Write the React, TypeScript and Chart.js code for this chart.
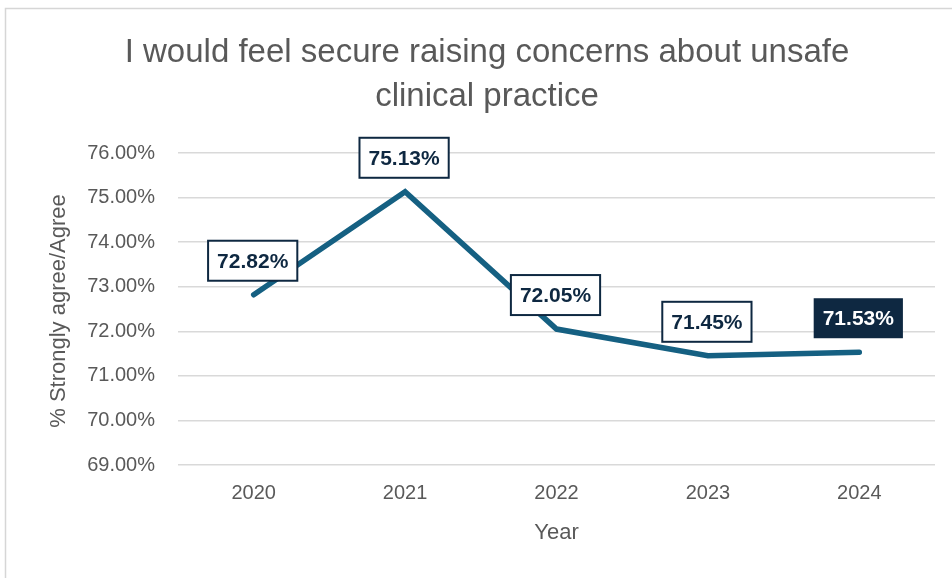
import React, { useEffect, useRef } from "react";
import { Chart, registerables } from "chart.js";

Chart.register(...registerables);

const years = ["2020", "2021", "2022", "2023", "2024"];
const agreePct = [72.82, 75.13, 72.05, 71.45, 71.53];
const titleLines = ["I would feel secure raising concerns about unsafe", "clinical practice"];
const yAxisTitle = "% Strongly agree/Agree";
const xAxisTitle = "Year";

const LINE = "#156082";
const NAVY = "#0E2841";
const GREY = "#595959";

const decorPlugin = {
  id: "decor",
  beforeDraw(chart: any) {
    const ctx = chart.ctx;
    ctx.save();
    ctx.fillStyle = "#ffffff";
    ctx.fillRect(0, 0, chart.width, chart.height);
    ctx.strokeStyle = "#d6d6d6";
    ctx.lineWidth = 1.5;
    ctx.beginPath();
    ctx.moveTo(5.5, chart.height);
    ctx.lineTo(5.5, 8.5);
    ctx.lineTo(chart.width, 8.5);
    ctx.stroke();
    // title
    ctx.fillStyle = GREY;
    ctx.font = "33px 'Liberation Sans', Arial, sans-serif";
    ctx.textAlign = "center";
    ctx.textBaseline = "alphabetic";
    ctx.fillText(titleLines[0], 487, 62);
    ctx.fillText(titleLines[1], 487, 106);
    // axis titles
    ctx.font = "22px 'Liberation Sans', Arial, sans-serif";
    const ca = chart.chartArea;
    ctx.textBaseline = "middle";
    ctx.fillText(xAxisTitle, (ca.left + ca.right) / 2, 533);
    ctx.translate(59, 311);
    ctx.rotate(-Math.PI / 2);
    ctx.fillText(yAxisTitle, 0, 0);
    ctx.restore();
  },
  afterDatasetsDraw(chart: any) {
    const ctx = chart.ctx;
    const meta = chart.getDatasetMeta(0);
    const data = chart.data.datasets[0].data as number[];
    ctx.save();
    ctx.font = "bold 21px 'Liberation Sans', Arial, sans-serif";
    ctx.textAlign = "center";
    ctx.textBaseline = "middle";
    meta.data.forEach((pt: any, i: number) => {
      const text = data[i].toFixed(2) + "%";
      const w = ctx.measureText(text).width + 18;
      const h = 40;
      const bx = pt.x - w / 2 - 1;
      const by = pt.y - 14 - h;
      const last = i === data.length - 1;
      ctx.fillStyle = last ? NAVY : "#ffffff";
      ctx.fillRect(bx, by, w, h);
      if (!last) {
        ctx.strokeStyle = NAVY;
        ctx.lineWidth = 2;
        ctx.strokeRect(bx, by, w, h);
      }
      ctx.fillStyle = last ? "#ffffff" : NAVY;
      ctx.fillText(text, bx + w / 2, by + h / 2 + 1);
    });
    ctx.restore();
  },
};

export default function App() {
  const ref = useRef<HTMLCanvasElement>(null);
  useEffect(() => {
    if (!ref.current) return;
    const chart = new Chart(ref.current, {
      type: "line",
      data: {
        labels: years,
        datasets: [
          {
            data: agreePct,
            borderColor: LINE,
            borderWidth: 5.5,
            borderCapStyle: "round",
            borderJoinStyle: "miter",
            pointRadius: 0,
            tension: 0,
            fill: false,
          },
        ],
      },
      options: {
        animation: false,
        responsive: false,
        devicePixelRatio: 1,
        layout: { padding: { left: 0, right: 17, top: 153, bottom: 0 } },
        plugins: { legend: { display: false }, title: { display: false }, tooltip: { enabled: false } },
        scales: {
          x: {
            offset: true,
            grid: { display: false, drawTicks: false },
            border: { display: false },
            ticks: { color: GREY, font: { size: 20, family: "'Liberation Sans', Arial, sans-serif" }, padding: 16 },
            afterFit: (s: any) => { s.height = 113; },
          },
          y: {
            min: 69,
            max: 76,
            grid: { color: "#d9d9d9", lineWidth: 1.5, drawTicks: false },
            border: { display: false },
            ticks: {
              stepSize: 1,
              color: GREY,
              font: { size: 20, family: "'Liberation Sans', Arial, sans-serif" },
              padding: 23,
              callback: (v: any) => Number(v).toFixed(2) + "%",
            },
            afterFit: (s: any) => { s.width = 178; },
          },
        },
      },
      plugins: [decorPlugin],
    });
    return () => chart.destroy();
  }, []);
  return (
    <div style={{ position: "fixed", left: 0, top: 0, width: 952, height: 578, background: "#fff" }}>
      <canvas ref={ref} width={952} height={578} style={{ width: 952, height: 578, display: "block" }} />
    </div>
  );
}
